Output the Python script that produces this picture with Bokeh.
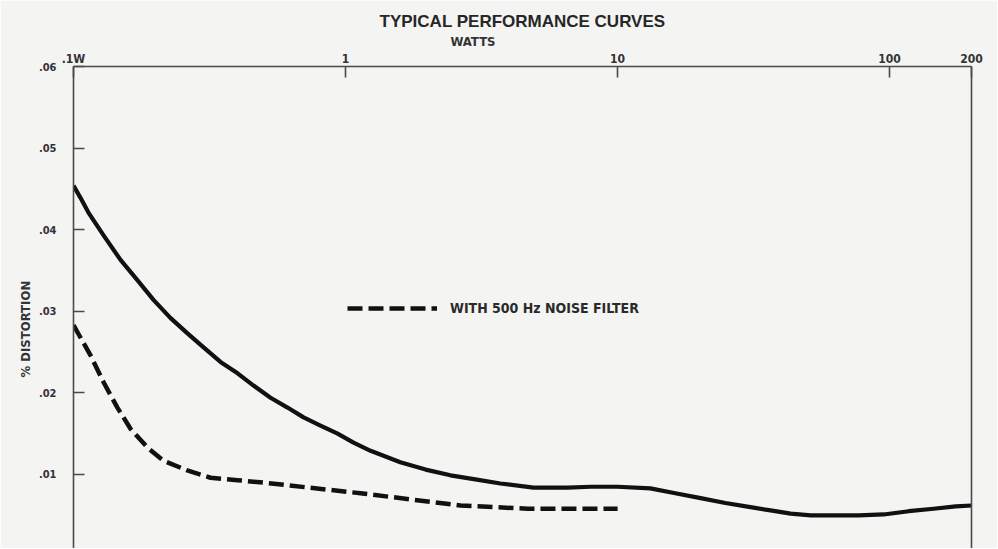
from bokeh.plotting import figure
from bokeh.models import Range1d, FixedTicker, LinearAxis, Legend, LegendItem, Title
from bokeh.embed import file_html
from bokeh.resources import INLINE

# ---- data ----
watts_std = [0.1, 0.1061, 0.1135, 0.129, 0.1489, 0.172, 0.1968, 0.227, 0.2624, 0.300, 0.347,
             0.401, 0.459, 0.530, 0.612, 0.701, 0.809, 0.935, 1.07, 1.236, 1.59, 1.97, 2.43,
             3.0, 3.71, 4.91, 6.55, 7.96, 10.0, 13.2, 16.3, 20.2, 24.9, 30.8, 36.5, 43.3,
             51.3, 62.2, 76.9, 95.1, 117.5, 145, 175, 200]
dist_std = [0.0454, 0.0439, 0.0421, 0.0393, 0.0363, 0.0338, 0.0314, 0.0292, 0.0273, 0.0256, 0.0238,
            0.0224, 0.0209, 0.0194, 0.0182, 0.0170, 0.0160, 0.0150, 0.0139, 0.0129, 0.0115, 0.0106, 0.0099,
            0.0094, 0.0089, 0.0084, 0.0084, 0.0085, 0.0085, 0.0083, 0.0077, 0.0071, 0.0065, 0.0060, 0.0056, 0.0052,
            0.0050, 0.0050, 0.0050, 0.0051, 0.0055, 0.0058, 0.0061, 0.0062]

watts_filt = [0.1, 0.1155, 0.129, 0.145, 0.162, 0.187, 0.214, 0.262, 0.319, 0.401, 0.500,
              1.135, 2.65, 4.67, 10.0]
dist_filt = [0.0283, 0.0246, 0.0213, 0.0182, 0.0156, 0.0133, 0.0117, 0.0105, 0.0096, 0.0093, 0.0090,
             0.0077, 0.0062, 0.0058, 0.0058]

x_ticks = [0.1, 1, 10, 100, 200]
x_tick_labels = [".1W", "1", "10", "100", "200"]
y_ticks = [0.01, 0.02, 0.03, 0.04, 0.05, 0.06]
y_tick_labels = [".01", ".02", ".03", ".04", ".05", ".06"]

title_text = "TYPICAL PERFORMANCE CURVES"
x_label = "WATTS"
y_label = "% DISTORTION"
legend_label = "WITH 500 Hz NOISE FILTER"

BG = "#f4f4f3"
INK = "#111111"
AX = "#4a4a4a"
COND = "DejaVu Sans Condensed, DejaVu Sans, sans-serif"

p = figure(width=997, height=548, x_axis_type="log", x_axis_location="above",
           x_range=Range1d(0.1, 200), y_range=Range1d(0.00093, 0.06),
           output_backend="svg", toolbar_location=None,
           min_border_left=73, min_border_right=26, min_border_top=66, min_border_bottom=0,
           background_fill_color=BG, border_fill_color=BG, outline_line_color=None)
p.grid.visible = False

r1 = p.line(watts_std, dist_std, line_color=INK, line_width=4.2, line_join="round")
r2 = p.line(watts_filt, dist_filt, line_color=INK, line_width=4.5, line_dash="15 6", line_cap="butt")

xa = p.xaxis[0]
xa.ticker = FixedTicker(ticks=x_ticks)
xa.major_label_overrides = {t: l for t, l in zip(x_ticks, x_tick_labels)}
xa.minor_tick_line_color = None
xa.major_tick_in = 11
xa.major_tick_out = 0
xa.major_label_standoff = 1
xa.axis_line_color = AX
xa.axis_line_width = 1.6
xa.major_tick_line_color = AX
xa.major_tick_line_width = 1.6
xa.major_label_text_font = COND
xa.major_label_text_font_size = "12px"
xa.major_label_text_font_style = "bold"
xa.major_label_text_color = "#333333"

ya = p.yaxis[0]
ya.ticker = FixedTicker(ticks=y_ticks)
ya.major_label_overrides = {t: l for t, l in zip(y_ticks, y_tick_labels)}
ya.minor_tick_line_color = None
ya.major_tick_in = 11
ya.major_tick_out = 0
ya.major_label_standoff = 17
ya.axis_line_color = AX
ya.axis_line_width = 1.6
ya.major_tick_line_color = AX
ya.major_tick_line_width = 1.6
ya.major_label_text_font = COND
ya.major_label_text_font_size = "11px"
ya.major_label_text_font_style = "bold"
ya.major_label_text_color = "#333333"

right = LinearAxis(ticker=FixedTicker(ticks=[]), axis_line_color=AX, axis_line_width=1.6,
                   major_tick_line_color=None, minor_tick_line_color=None,
                   major_label_text_font_size="0px")
p.add_layout(right, "right")

# "WATTS" sits between the top axis and the main title
p.add_layout(Title(text=x_label, align="left", offset=377, standoff=0,
                   text_font=COND, text_font_size="13px", text_font_style="bold",
                   text_color="#333333"), "above")
p.add_layout(Title(text=y_label, align="left", offset=171, standoff=6,
                   text_font=COND, text_font_size="13px", text_font_style="bold",
                   text_color="#333333"), "left")

p.title.text = title_text
p.title.align = "center"
p.title.standoff = 2
p.title.text_font = "Liberation Sans"
p.title.text_font_size = "17px"
p.title.text_font_style = "bold"
p.title.text_color = "#262626"

legend = Legend(items=[LegendItem(label=legend_label, renderers=[r2])],
                location=(274, 230), padding=0, margin=0, spacing=0,
                glyph_width=90, glyph_height=20, label_height=20, label_standoff=13,
                border_line_color=None, background_fill_alpha=0,
                label_text_font=COND, label_text_font_size="14px",
                label_text_font_style="bold", label_text_color="#2a2a2a")
p.add_layout(legend)

open("out.html", "w").write(file_html(p, INLINE))
